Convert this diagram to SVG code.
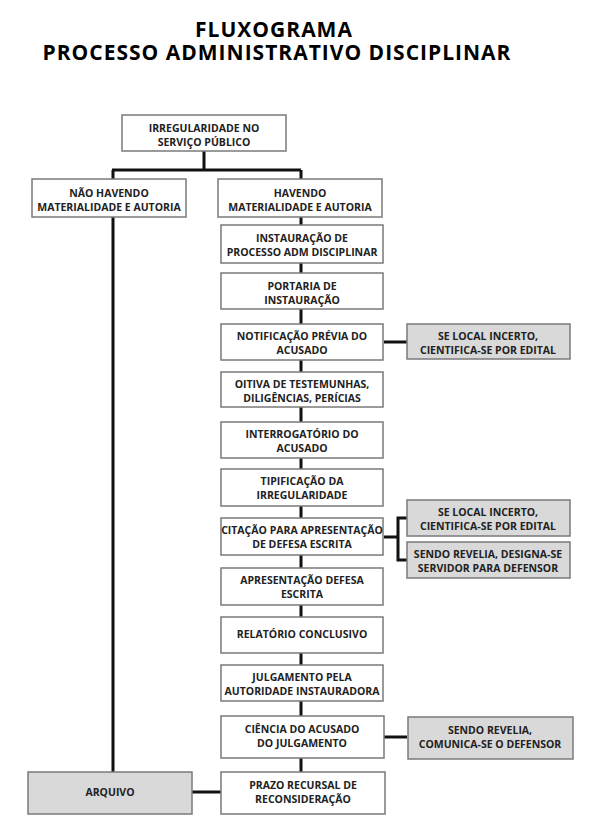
<svg xmlns="http://www.w3.org/2000/svg" width="600" height="829" viewBox="0 0 600 829">
<style>
.b{fill:#fff;stroke:#7a7a7a;stroke-width:1.5}
.g{fill:#d9d9d9;stroke:#7a7a7a;stroke-width:1.5}
.t{font-family:"Open Sans","Liberation Sans",sans-serif;font-weight:700;font-size:10.5px;fill:#222;text-anchor:middle}
.h{font-family:"Open Sans","Liberation Sans",sans-serif;font-weight:700;font-size:21px;letter-spacing:1px;fill:#000;text-anchor:middle}
.c{fill:none;stroke:#111;stroke-width:3}
</style>
<rect width="600" height="829" fill="#fff"/>
<g id="title">
<text class="h" x="274" y="37">FLUXOGRAMA</text>
<text class="h" x="277" y="60">PROCESSO ADMINISTRATIVO DISCIPLINAR</text>
</g>
<g id="connectors">
<path class="c" d="M204 151V170M112 170H301M113 170V179M301 170V179"/>
<path class="c" d="M113 217V772"/>
<path class="c" d="M301 217V225M301 263V273M301 309V324M301 360V372M301 407V422M301 458V469M301 506V518M301 555V568M301 605V617M301 653V665M301 701V716M301 758V772"/>
<path class="c" d="M384 342H407"/>
<path class="c" d="M384 537H398M407 518H398V560H407"/>
<path class="c" d="M384 737H407"/>
<path class="c" d="M192 792H221"/>
</g>
<g id="n1"><rect class="b" x="122" y="115" width="164" height="36"/><text class="t" x="204" y="132">IRREGULARIDADE NO</text><text class="t" x="204" y="146">SERVIÇO PÚBLICO</text></g>
<g id="n2"><rect class="b" x="32" y="179" width="154" height="38"/><text class="t" x="109" y="197">NÃO HAVENDO</text><text class="t" x="109" y="211">MATERIALIDADE E AUTORIA</text></g>
<g id="n3"><rect class="b" x="218" y="179" width="164" height="38"/><text class="t" x="300" y="197">HAVENDO</text><text class="t" x="300" y="211">MATERIALIDADE E AUTORIA</text></g>
<g id="n4"><rect class="b" x="221" y="225" width="162" height="38"/><text class="t" x="302" y="242">INSTAURAÇÃO DE</text><text class="t" x="302" y="256">PROCESSO ADM DISCIPLINAR</text></g>
<g id="n5"><rect class="b" x="221" y="273" width="162" height="36"/><text class="t" x="302" y="290">PORTARIA DE</text><text class="t" x="302" y="304">INSTAURAÇÃO</text></g>
<g id="n6"><rect class="b" x="221" y="324" width="162" height="36"/><text class="t" x="302" y="340">NOTIFICAÇÃO PRÉVIA DO</text><text class="t" x="302" y="354">ACUSADO</text></g>
<g id="n6b"><rect class="g" x="407" y="324" width="163" height="35"/><text class="t" x="488" y="340">SE LOCAL INCERTO,</text><text class="t" x="488" y="354">CIENTIFICA-SE POR EDITAL</text></g>
<g id="n7"><rect class="b" x="221" y="372" width="162" height="35"/><text class="t" x="302" y="388">OITIVA DE TESTEMUNHAS,</text><text class="t" x="302" y="402">DILIGÊNCIAS, PERÍCIAS</text></g>
<g id="n8"><rect class="b" x="221" y="422" width="162" height="36"/><text class="t" x="302" y="438">INTERROGATÓRIO DO</text><text class="t" x="302" y="452">ACUSADO</text></g>
<g id="n9"><rect class="b" x="221" y="469" width="162" height="37"/><text class="t" x="302" y="485">TIPIFICAÇÃO DA</text><text class="t" x="302" y="499">IRREGULARIDADE</text></g>
<g id="n10"><rect class="b" x="221" y="518" width="162" height="37"/><text class="t" x="302" y="534">CITAÇÃO PARA APRESENTAÇÃO</text><text class="t" x="302" y="548">DE  DEFESA ESCRITA</text></g>
<g id="n10a"><rect class="g" x="407" y="500" width="163" height="36"/><text class="t" x="488" y="516">SE LOCAL INCERTO,</text><text class="t" x="488" y="530">CIENTIFICA-SE POR EDITAL</text></g>
<g id="n10b"><rect class="g" x="407" y="542" width="163" height="36"/><text class="t" x="488" y="558">SENDO REVELIA, DESIGNA-SE</text><text class="t" x="488" y="572">SERVIDOR PARA DEFENSOR</text></g>
<g id="n11"><rect class="b" x="221" y="568" width="162" height="37"/><text class="t" x="302" y="584">APRESENTAÇÃO DEFESA</text><text class="t" x="302" y="598">ESCRITA</text></g>
<g id="n12"><rect class="b" x="221" y="617" width="162" height="36"/><text class="t" x="302" y="638">RELATÓRIO CONCLUSIVO</text></g>
<g id="n13"><rect class="b" x="221" y="665" width="162" height="36"/><text class="t" x="302" y="681">JULGAMENTO PELA</text><text class="t" x="302" y="695">AUTORIDADE INSTAURADORA</text></g>
<g id="n14"><rect class="b" x="221" y="716" width="163" height="42"/><text class="t" x="302" y="733">CIÊNCIA DO ACUSADO</text><text class="t" x="302" y="747">DO JULGAMENTO</text></g>
<g id="n14b"><rect class="g" x="408" y="717" width="165" height="42"/><text class="t" x="490" y="734">SENDO REVELIA,</text><text class="t" x="490" y="748">COMUNICA-SE O DEFENSOR</text></g>
<g id="n15"><rect class="b" x="221" y="772" width="164" height="42"/><text class="t" x="303" y="789">PRAZO RECURSAL DE</text><text class="t" x="303" y="803">RECONSIDERAÇÃO</text></g>
<g id="n16"><rect class="g" x="28" y="772" width="164" height="42"/><text class="t" x="110" y="796">ARQUIVO</text></g>
</svg>
